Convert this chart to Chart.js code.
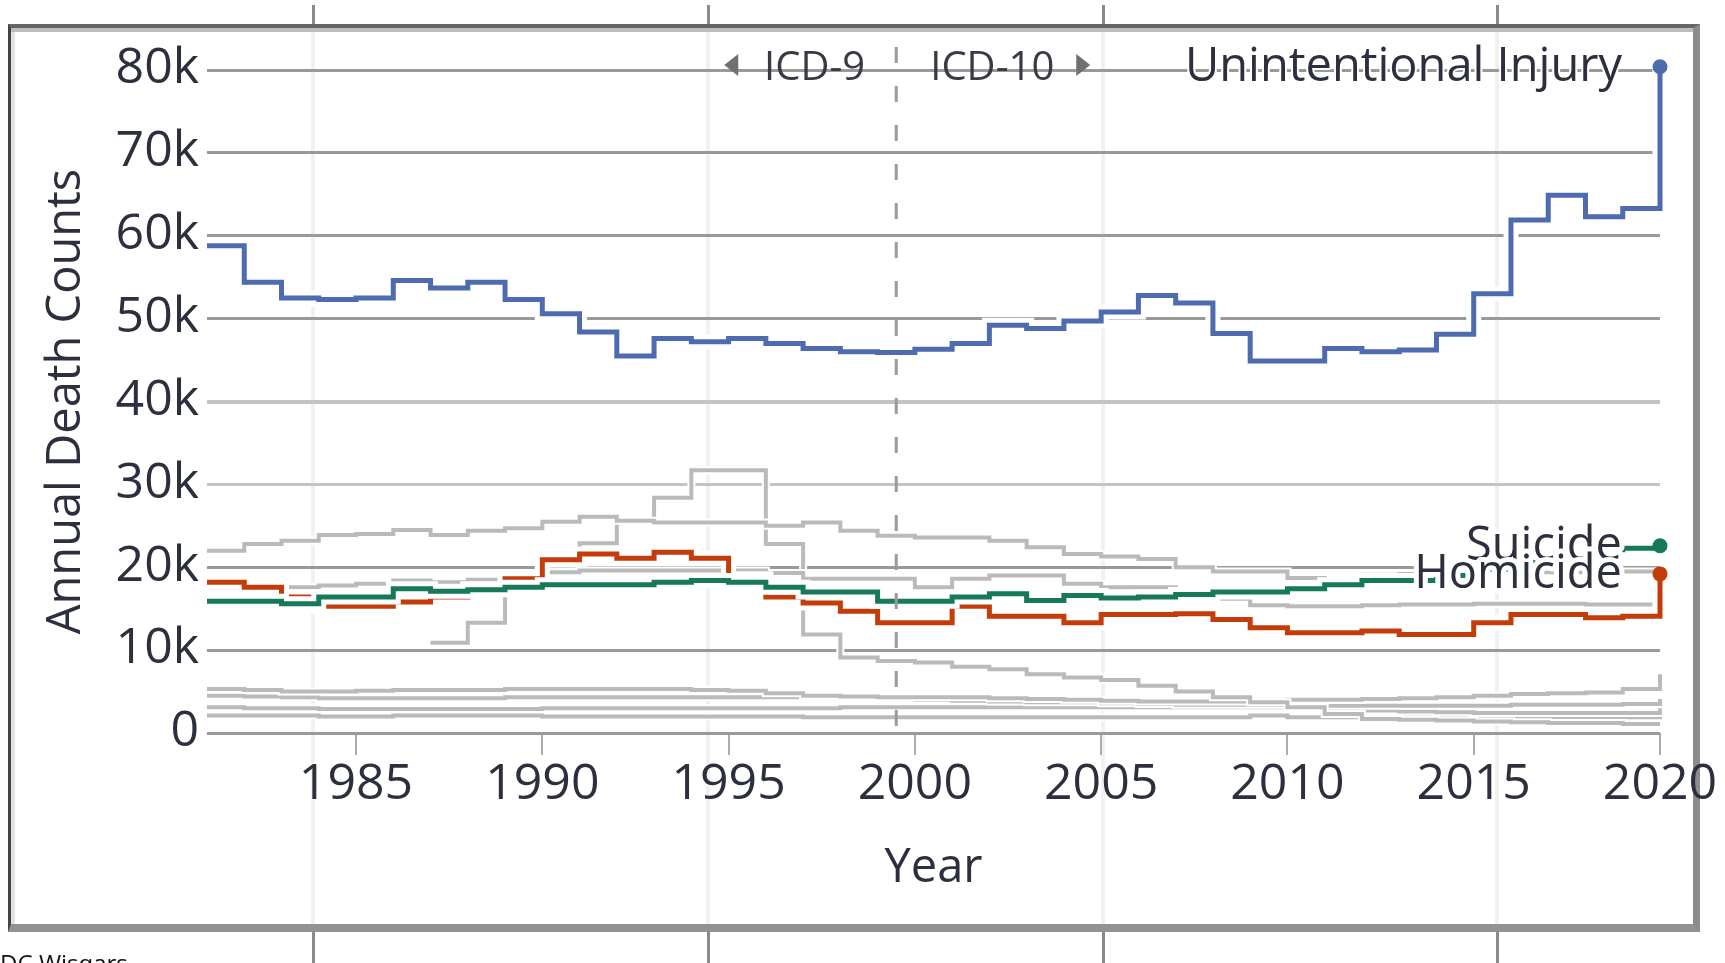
<!DOCTYPE html>
<html>
<head>
<meta charset="utf-8">
<title>Annual Death Counts</title>
<script src="https://cdn.jsdelivr.net/npm/chart.js@4.4.1/dist/chart.umd.min.js"></script>
<style>
  html, body { margin: 0; padding: 0; background: #fff; overflow: hidden; }
  #page { position: relative; width: 1725px; height: 963px; }
  .col { position: absolute; top: 32px; height: 892px; width: 4px; background: #f1f1f1; }
  .stub { position: absolute; width: 3px; background: #8a8a8a; }
  #frame {
    position: absolute; left: 8px; top: 24px; width: 1692px; height: 908px;
    box-sizing: border-box;
    border-top: 4px solid #666; border-left: 3px solid #444;
    border-right: 7px solid #8c8c8c; border-bottom: 8px solid #929292;
    box-shadow: inset 0 4px 0 0 #bdbdbd, inset 4px 0 0 0 #e2e2e2;
  }
  #chart { position: absolute; left: 0; top: 0; }
  #credit {
    position: absolute; left: -15px; top: 951px;
    font: 24px/24px "Open Sans", sans-serif; color: #111; white-space: nowrap;
  }
</style>
</head>
<body>
<div id="page">
  <div id="frame"></div>
  <div class="col" style="left:311px"></div>
  <div class="col" style="left:706px"></div>
  <div class="col" style="left:1101px"></div>
  <div class="col" style="left:1495px"></div>
  <div class="stub" style="left:312px;top:5px;height:19px"></div>
  <div class="stub" style="left:707px;top:5px;height:19px"></div>
  <div class="stub" style="left:1102px;top:5px;height:19px"></div>
  <div class="stub" style="left:1496px;top:5px;height:19px"></div>
  <div class="stub" style="left:312px;top:932px;height:31px"></div>
  <div class="stub" style="left:707px;top:932px;height:31px"></div>
  <div class="stub" style="left:1102px;top:932px;height:31px"></div>
  <div class="stub" style="left:1496px;top:932px;height:31px"></div>
  <canvas id="chart" width="1725" height="963"></canvas>
  <div id="credit">CDC Wisqars</div>
</div>
<script>
// ---- datos (miles de muertes por año) ----
const years = [1981, 1982, 1983, 1984, 1985, 1986, 1987, 1988, 1989, 1990,
  1991, 1992, 1993, 1994, 1995, 1996, 1997, 1998, 1999, 2000,
  2001, 2002, 2003, 2004, 2005, 2006, 2007, 2008, 2009, 2010,
  2011, 2012, 2013, 2014, 2015, 2016, 2017, 2018, 2019, 2020];

const unintentionalInjury = [58.8, 54.4, 52.5, 52.3, 52.5, 54.6, 53.7, 54.4, 52.3, 50.6,
  48.4, 45.5, 47.6, 47.2, 47.6, 47.0, 46.4, 46.0, 45.9, 46.3,
  47.0, 49.2, 48.8, 49.7, 50.8, 52.8, 51.9, 48.2, 44.9, 44.9,
  46.4, 46.0, 46.2, 48.1, 53.0, 61.9, 64.9, 62.3, 63.3, 80.4];

const suicide = [15.9, 15.9, 15.6, 16.4, 16.4, 17.4, 17.1, 17.3, 17.6, 17.9,
  17.9, 17.9, 18.2, 18.4, 18.2, 17.6, 17.0, 17.0, 15.9, 15.9,
  16.4, 16.8, 16.0, 16.6, 16.3, 16.4, 16.7, 17.0, 17.0, 17.4,
  17.9, 18.4, 18.4, 19.0, 19.8, 20.6, 21.5, 22.1, 22.3, 22.6];

const homicide = [18.2, 17.6, 16.4, 15.3, 15.3, 15.8, 16.4, 17.4, 18.6, 20.9,
  21.6, 21.1, 21.8, 21.1, 18.6, 16.4, 15.7, 14.7, 13.3, 13.3,
  15.3, 14.1, 14.1, 13.3, 14.3, 14.3, 14.4, 13.7, 12.7, 12.1,
  12.1, 12.3, 11.9, 11.9, 13.3, 14.3, 14.3, 13.9, 14.1, 19.2];

// otras causas (gris)
const cancer = [22.0, 22.8, 23.2, 23.9, 24.0, 24.5, 23.9, 24.4, 24.7, 25.5,
  26.1, 25.6, 25.4, 25.4, 25.4, 25.0, 25.4, 24.4, 23.8, 23.6,
  23.6, 23.2, 22.4, 21.6, 21.3, 21.0, 20.0, 19.5, 19.5, 18.7,
  18.4, 19.1, 19.2, 19.3, 19.3, 19.4, 19.4, 19.5, 19.5, 19.7];

const heartDisease = [17.6, 17.5, 17.6, 17.8, 18.0, 18.4, 18.2, 18.5, 19.0, 19.4,
  19.6, 19.6, 19.6, 19.6, 19.6, 19.3, 18.6, 18.6, 18.6, 17.6,
  18.6, 19.0, 19.0, 18.0, 17.6, 17.6, 16.9, 16.2, 15.4, 15.3,
  15.3, 15.4, 15.5, 15.5, 15.6, 15.6, 15.6, 15.5, 15.5, 17.6];

const hiv = [null, null, null, null, null, null, 10.9, 13.3, 17.0, 19.5,
  22.9, 25.6, 28.4, 31.7, 31.7, 22.8, 11.9, 9.1, 8.7, 8.5,
  8.0, 7.7, 7.1, 6.7, 6.4, 5.7, 5.0, 4.3, 3.7, 3.1,
  2.3, 1.7, 1.6, 1.5, 1.4, 1.3, 1.2, 1.2, 1.1, 1.1];

const liverDisease = [5.3, 5.2, 5.0, 5.0, 5.1, 5.2, 5.2, 5.2, 5.3, 5.3,
  5.3, 5.3, 5.3, 5.2, 5.1, 4.8, 4.5, 4.4, 4.3, 4.3,
  4.3, 4.2, 4.1, 4.0, 3.9, 3.8, 3.8, 3.8, 3.9, 4.0,
  4.0, 4.1, 4.2, 4.3, 4.5, 4.7, 4.8, 4.9, 5.3, 7.1];

const stroke = [4.5, 4.4, 4.3, 4.2, 4.2, 4.2, 4.2, 4.2, 4.3, 4.3,
  4.3, 4.3, 4.3, 4.3, 4.3, 4.3, 4.3, 4.3, 4.1, 4.0,
  3.9, 3.8, 3.7, 3.7, 3.6, 3.5, 3.4, 3.4, 3.4, 3.3,
  3.3, 3.3, 3.3, 3.3, 3.3, 3.4, 3.4, 3.4, 3.5, 4.1];

const diabetes = [3.1, 3.0, 3.0, 2.9, 2.9, 2.9, 2.9, 2.9, 2.9, 3.0,
  3.0, 3.0, 3.0, 3.0, 3.0, 3.0, 3.0, 3.1, 3.1, 3.1,
  3.1, 3.1, 3.1, 3.1, 3.1, 3.1, 3.1, 3.1, 3.1, 2.9,
  2.7, 2.7, 2.6, 2.5, 2.4, 2.4, 2.4, 2.4, 2.4, 3.0];

const influenza = [2.1, 2.1, 2.1, 2.0, 2.0, 2.1, 2.1, 2.1, 2.1, 2.0,
  2.0, 2.0, 2.0, 2.0, 2.0, 2.0, 1.9, 1.9, 1.9, 1.9,
  1.9, 1.9, 1.9, 1.9, 1.9, 1.9, 1.9, 1.9, 2.1, 1.9,
  1.9, 1.9, 1.9, 1.9, 1.9, 1.9, 1.9, 1.9, 1.9, 2.3];

const yearTicks = [1985, 1990, 1995, 2000, 2005, 2010, 2015, 2020];
const countTicks = [0, 10000, 20000, 30000, 40000, 50000, 60000, 70000, 80000];
const icdChangeYear = 1999.5;

// ---- helpers ----
const FONT = '"Open Sans", sans-serif';
const TEXT = '#2c2f3d';
const last = years.length - 1;

function toPoints(vals) {
  return years.map((yr, i) => ({ x: yr, y: vals[i] == null ? null : vals[i] * 1000 }));
}

function coloured(label, vals, color) {
  return {
    label, data: toPoints(vals), borderColor: color, backgroundColor: color,
    borderWidth: 5, stepped: 'before', spanGaps: false, clip: false,
    pointRadius: c => (c.dataIndex === last ? 7.5 : 0),
    pointBorderWidth: 0, pointBackgroundColor: color,
    halo: 5, tag: label
  };
}

function grey(label, vals) {
  return {
    label, data: toPoints(vals), borderColor: '#bababa', borderWidth: 4,
    stepped: 'before', spanGaps: false, clip: false, pointRadius: 0, halo: 2
  };
}

// Halo blanco debajo de cada línea
const haloPlugin = {
  id: 'halo',
  beforeDatasetDraw(chart, args) {
    const ds = chart.data.datasets[args.index];
    const line = args.meta.dataset;
    if (!line || !ds.halo) return;
    const ctx = chart.ctx;
    ctx.save();
    ctx.beginPath();
    line.path(ctx);
    ctx.strokeStyle = '#fff';
    ctx.lineWidth = ds.borderWidth + ds.halo * 2;
    ctx.stroke();
    ctx.restore();
  }
};

// Línea ICD-9 / ICD-10 y etiquetas de series
const notesPlugin = {
  id: 'notes',
  afterDatasetsDraw(chart) {
    const { ctx, scales: { x, y } } = chart;
    const lx = x.getPixelForValue(icdChangeYear);
    const top = y.getPixelForValue(80000);

    ctx.save();
    ctx.strokeStyle = '#9a9a9a';
    ctx.lineWidth = 3;
    ctx.setLineDash([16, 23]);
    ctx.beginPath();
    ctx.moveTo(lx, top - 23);
    ctx.lineTo(lx, y.getPixelForValue(0));
    ctx.stroke();
    ctx.setLineDash([]);

    ctx.font = '40px ' + FONT;
    ctx.fillStyle = '#3a3a44';
    ctx.textBaseline = 'middle';
    ctx.textAlign = 'right';
    ctx.fillText('ICD-9', lx - 31, top - 1);
    ctx.textAlign = 'left';
    ctx.fillText('ICD-10', lx + 34, top - 1);

    ctx.fillStyle = '#707070';
    ctx.beginPath();
    ctx.moveTo(lx - 172, top - 5);
    ctx.lineTo(lx - 158, top - 16);
    ctx.lineTo(lx - 158, top + 6);
    ctx.closePath();
    ctx.fill();
    ctx.beginPath();
    ctx.moveTo(lx + 194, top - 5);
    ctx.lineTo(lx + 180, top - 16);
    ctx.lineTo(lx + 180, top + 6);
    ctx.closePath();
    ctx.fill();

    ctx.font = '47px ' + FONT;
    ctx.textAlign = 'right';
    ctx.lineJoin = 'round';
    chart.data.datasets.forEach((ds, i) => {
      if (!ds.tag) return;
      const pt = chart.getDatasetMeta(i).data[last];
      const tx = pt.x - 38, ty = pt.y + 1;
      ctx.strokeStyle = '#fff';
      ctx.lineWidth = ds.tag === 'Unintentional Injury' ? 4 : 10;
      ctx.strokeText(ds.tag, tx, ty);
      ctx.fillStyle = TEXT;
      ctx.fillText(ds.tag, tx, ty);
    });
    ctx.restore();
  }
};

new Chart(document.getElementById('chart'), {
  type: 'line',
  data: {
    datasets: [
      coloured('Unintentional Injury', unintentionalInjury, '#4e6bb0'),
      coloured('Suicide', suicide, '#16795a'),
      coloured('Homicide', homicide, '#c43c0a'),
      grey('Malignant Neoplasms', cancer),
      grey('Heart Disease', heartDisease),
      grey('HIV', hiv),
      grey('Liver Disease', liverDisease),
      grey('Stroke', stroke),
      grey('Diabetes', diabetes),
      grey('Influenza & Pneumonia', influenza)
    ]
  },
  options: {
    responsive: false,
    devicePixelRatio: 1,
    animation: false,
    events: [],
    layout: { padding: { left: 0, top: 70, right: 65, bottom: 0 } },
    plugins: { legend: { display: false }, tooltip: { enabled: false } },
    scales: {
      x: {
        type: 'linear', min: 1981, max: 2020,
        afterFit: s => { s.height = 230; },
        afterBuildTicks: s => { s.ticks = yearTicks.map(v => ({ value: v })); },
        border: { display: false },
        grid: { drawOnChartArea: false, drawTicks: true, tickLength: 22, color: '#ababab', lineWidth: 2 },
        ticks: {
          autoSkip: false, maxRotation: 0, padding: 0, color: TEXT,
          font: { family: FONT, size: 50 },
          callback: v => String(v)
        },
        title: {
          display: true, text: 'Year', color: TEXT,
          font: { family: FONT, size: 47 }, padding: { top: 0, bottom: 66 }
        }
      },
      y: {
        min: 0, max: 80000,
        afterFit: s => { s.width = 207; },
        afterBuildTicks: s => { s.ticks = countTicks.map(v => ({ value: v })); },
        border: { display: false },
        grid: {
          drawTicks: false,
          color: c => (c.tick && (c.tick.value === 40000 || c.tick.value === 30000)) ? '#c3c3c3' : '#999',
          lineWidth: c => (c.tick && c.tick.value === 40000) ? 4 : 3
        },
        ticks: {
          padding: 8, labelOffset: -1, color: TEXT,
          font: { family: FONT, size: 50 },
          callback: v => (v === 0 ? '0' : (v / 1000) + 'k')
        },
        title: {
          display: true, text: 'Annual Death Counts', color: TEXT,
          font: { family: FONT, size: 47 }, padding: { top: 38, bottom: 0 }
        }
      }
    }
  },
  plugins: [haloPlugin, notesPlugin]
});
</script>
</body>
</html>
